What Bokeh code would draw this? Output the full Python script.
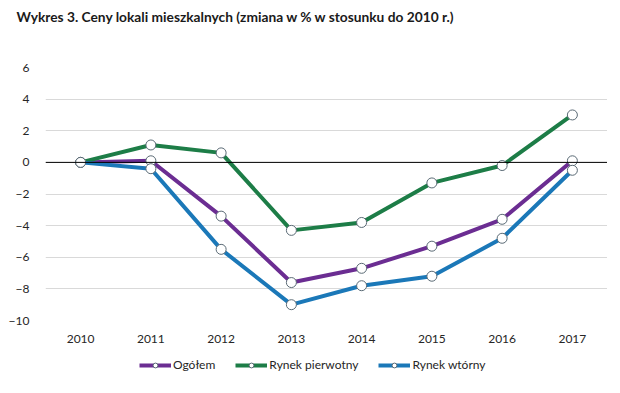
from bokeh.plotting import figure
from bokeh.layouts import column
from bokeh.models import Span, Legend, LegendItem, ColumnDataSource, FixedTicker, FactorRange, Range1d
from bokeh.embed import file_html
from bokeh.resources import INLINE

years = ["2010", "2011", "2012", "2013", "2014", "2015", "2016", "2017"]
ogolem = [0, 0.1, -3.4, -7.6, -6.7, -5.3, -3.6, 0.1]
pierwotny = [0, 1.1, 0.6, -4.3, -3.8, -1.3, -0.2, 3.0]
wtorny = [0, -0.4, -5.5, -9.0, -7.8, -7.2, -4.8, -0.5]
series_names = ["Ogółem", "Rynek pierwotny", "Rynek wtórny"]
y_ticks = [-10, -8, -6, -4, -2, 0, 2, 4, 6]
title_text = "Wykres 3. Ceny lokali mieszkalnych (zmiana w % w stosunku do 2010 r.)"

colors = ["#6b2d92", "#1d7d47", "#1b78b8"]
FONT = "Lato"
W = 607

# title strip
pt = figure(width=W, height=36, output_backend="svg", toolbar_location=None,
            x_axis_location=None, y_axis_location=None, min_border=0,
            x_range=(0, 1), y_range=(0, 1))
pt.grid.visible = False
pt.outline_line_color = None
pt.title.text = title_text
pt.title.text_font = FONT
pt.title.text_font_size = "13.75px"
pt.title.text_font_style = "bold"
pt.title.text_color = "#1a1a1a"
pt.title.standoff = 10
pt.title.offset = -29

# main chart
p = figure(x_range=years, y_range=(-10, 6), width=W, height=309,
           output_backend="svg", toolbar_location=None,
           min_border_left=45, min_border_right=0, min_border_top=31,
           min_border_bottom=25)
p.outline_line_color = None
p.background_fill_color = "white"
p.border_fill_color = "white"
p.xgrid.grid_line_color = None
p.ygrid.grid_line_color = "#d9d9d9"
p.ygrid.grid_line_width = 1
p.yaxis.ticker = FixedTicker(ticks=y_ticks)
for ax in (p.xaxis, p.yaxis):
    ax.axis_line_color = None
    ax.major_tick_line_color = None
    ax.minor_tick_line_color = None
    ax.major_label_text_font = FONT
    ax.major_label_text_font_size = "12px"
    ax.major_label_text_color = "#262626"
p.xaxis.major_label_standoff = 8
p.yaxis.major_label_standoff = 10
p.add_layout(Span(location=0, dimension="width", line_color="black", line_width=1))

# legend strip: same series, drawn outside its visible range so only the legend shows
pl = figure(width=W, height=32, output_backend="svg", toolbar_location=None,
            x_axis_location=None, y_axis_location=None, min_border=0,
            x_range=FactorRange(*years), y_range=Range1d(100, 101))
pl.grid.visible = False
pl.outline_line_color = None

items = []
for name, vals, c in zip(series_names, [ogolem, pierwotny, wtorny], colors):
    src = ColumnDataSource(dict(x=years, y=vals))
    p.line("x", "y", source=src, line_color=c, line_width=4)
    p.scatter("x", "y", source=src, size=10, fill_color="white",
              line_color="#5a6a75", line_width=1)
    r1 = pl.line("x", "y", source=src, line_color=c, line_width=4)
    r2 = pl.scatter("x", "y", source=src, size=9, fill_color="white",
                    line_color="#5a6a75", line_width=1)
    items.append(LegendItem(label=name, renderers=[r1, r2]))

legend = Legend(items=items, orientation="horizontal", location=(94, 5),
                label_text_font=FONT, label_text_font_size="12px",
                label_text_color="#262626", glyph_width=32, glyph_height=12,
                spacing=20, label_standoff=2, border_line_color=None,
                background_fill_alpha=0, padding=0, margin=0)
pl.add_layout(legend)

layout = column(pt, p, pl, spacing=0)
open("out.html", "w").write(file_html(layout, INLINE))
